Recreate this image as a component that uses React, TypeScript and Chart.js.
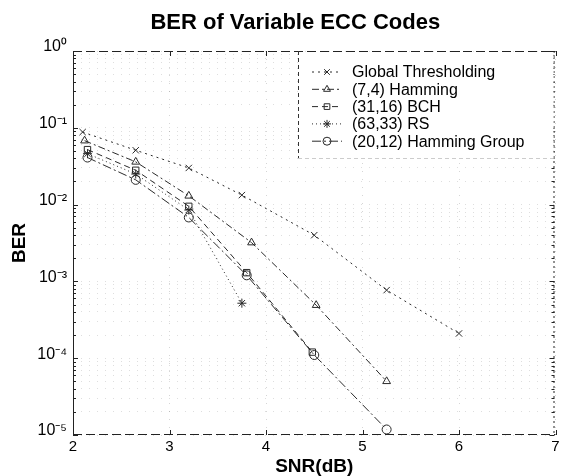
import React, { useEffect, useRef } from 'react';
import { Chart, registerables } from 'chart.js';
import { drawPoint } from 'chart.js/helpers';

Chart.register(...registerables);

// ---------------- data ----------------
const chartTitle = 'BER of Variable ECC Codes';
const xTitle = 'SNR(dB)';
const yTitle = 'BER';

const seriesLabels = [
  'Global Thresholding',
  '(7,4) Hamming',
  '(31,16) BCH',
  '(63,33) RS',
  '(20,12) Hamming Group',
];

const snrGlobal = [2.1, 2.65, 3.2, 3.75, 4.5, 5.25, 6.0];
const berGlobal = [0.088, 0.051, 0.03, 0.0133, 0.004, 0.00077, 0.00021];

const snrHamming74 = [2.12, 2.65, 3.2, 3.85, 4.52, 5.25];
const berHamming74 = [0.068, 0.036, 0.013, 0.0032, 0.00049, 0.00005];

const snrBCH = [2.15, 2.65, 3.2, 3.8, 4.48];
const berBCH = [0.052, 0.028, 0.0095, 0.0013, 0.00012];

const snrRS = [2.15, 2.65, 3.2, 3.75];
const berRS = [0.046, 0.025, 0.0085, 0.00052];

const snrHG = [2.15, 2.65, 3.2, 3.8, 4.5, 5.25];
const berHG = [0.041, 0.021, 0.0068, 0.0012, 0.00011, 0.0000118];

const xTicks = [2, 3, 4, 5, 6, 7];
const yMajorTicks = [1e-5, 1e-4, 1e-3, 1e-2, 1e-1, 1];
const yMinorMultipliers = [2, 3, 4, 5, 6, 7, 8, 9];

// ---------------- helpers ----------------
const FONT = "'Liberation Sans', Arial, Helvetica, sans-serif";
const INK = '#2a2a2a';

const SUP: Record<string, string> = {
  '0': '\u2070', '1': '\u00B9', '2': '\u00B2', '3': '\u00B3', '4': '\u2074',
  '5': '\u2075', '6': '\u2076', '7': '\u2077', '8': '\u2078', '9': '\u2079', '-': '\u207B',
};
const isPow10 = (v: number) => Math.abs(Math.log10(v) - Math.round(Math.log10(v))) < 1e-9;
const powLabel = (v: number) => {
  const e = Math.round(Math.log10(v));
  return '10' + String(e).split('').map((c) => SUP[c] ?? c).join('');
};

const yTickValues: number[] = [];
yMajorTicks.forEach((m, i) => {
  yTickValues.push(m);
  if (i < yMajorTicks.length - 1) yMinorMultipliers.forEach((k) => yTickValues.push(m * k));
});

const toPoints = (xs: number[], ys: number[]) => xs.map((x, i) => ({ x, y: ys[i] }));

const seriesStyles = [
  { dash: [2, 4], point: 'crossRot' },
  { dash: [7, 3, 2, 3], point: 'triangle' },
  { dash: [6, 4], point: 'rect' },
  { dash: [1, 3], point: 'star' },
  { dash: [9, 3, 2, 3], point: 'circle' },
];
const seriesData = [
  toPoints(snrGlobal, berGlobal),
  toPoints(snrHamming74, berHamming74),
  toPoints(snrBCH, berBCH),
  toPoints(snrRS, berRS),
  toPoints(snrHG, berHG),
];

// ---------------- plugins ----------------
const titlePlugin = {
  id: 'matlabTitle',
  afterDraw(chart: any) {
    const { ctx, chartArea } = chart;
    ctx.save();
    ctx.font = `bold 22px ${FONT}`;
    ctx.fillStyle = '#000';
    ctx.textAlign = 'center';
    ctx.textBaseline = 'middle';
    ctx.fillText(chartTitle, (chartArea.left + chartArea.right) / 2 - 19, 23);
    ctx.restore();
  },
};

const framePlugin = {
  id: 'matlabFrame',
  beforeDatasetsDraw(chart: any) {
    const { ctx, chartArea: a, scales } = chart;
    ctx.save();
    ctx.strokeStyle = '#222';
    ctx.lineWidth = 1;
    ctx.setLineDash([]);
    ctx.beginPath();
    ctx.moveTo(a.left + 0.5, a.top);
    ctx.lineTo(a.left + 0.5, a.bottom);
    ctx.stroke();
    ctx.setLineDash([9, 4]);
    ctx.beginPath();
    ctx.moveTo(a.left, a.top + 0.5);
    ctx.lineTo(a.right, a.top + 0.5);
    ctx.moveTo(a.left, a.bottom - 0.5);
    ctx.lineTo(a.right, a.bottom - 0.5);
    ctx.stroke();
    ctx.setLineDash([2, 3]);
    ctx.beginPath();
    ctx.moveTo(a.right - 1.5, a.top);
    ctx.lineTo(a.right - 1.5, a.bottom);
    ctx.stroke();
    ctx.setLineDash([]);
    ctx.beginPath();
    scales.x.ticks.forEach((t: any) => {
      const px = Math.round(scales.x.getPixelForValue(t.value)) + 0.5;
      ctx.moveTo(px, a.bottom);
      ctx.lineTo(px, a.bottom - 5);
      ctx.moveTo(px, a.top);
      ctx.lineTo(px, a.top + 5);
    });
    scales.y.ticks.forEach((t: any) => {
      const py = Math.round(scales.y.getPixelForValue(t.value)) + 0.5;
      const len = isPow10(t.value) ? 5 : 3;
      ctx.moveTo(a.left, py);
      ctx.lineTo(a.left + len, py);
      ctx.moveTo(a.right - 1, py);
      ctx.lineTo(a.right - 1 - len, py);
    });
    ctx.stroke();
    ctx.restore();
  },
};

const legendPlugin = {
  id: 'matlabLegend',
  afterDatasetsDraw(chart: any) {
    const { ctx, chartArea: a } = chart;
    const boxL = 298;
    const boxT = a.top;
    const boxR = a.right - 2;
    const boxB = 158;
    ctx.save();
    ctx.fillStyle = '#fff';
    ctx.fillRect(boxL, boxT + 1, boxR - boxL, boxB - boxT);
    ctx.strokeStyle = '#333';
    ctx.lineWidth = 1;
    ctx.setLineDash([4, 3]);
    ctx.beginPath();
    ctx.moveTo(boxL + 0.5, boxT);
    ctx.lineTo(boxL + 0.5, boxB + 0.5);
    ctx.stroke();
    ctx.strokeStyle = '#ccc';
    ctx.beginPath();
    ctx.moveTo(boxL, boxB + 0.5);
    ctx.lineTo(boxR, boxB + 0.5);
    ctx.stroke();

    ctx.font = `16px ${FONT}`;
    ctx.textAlign = 'left';
    ctx.textBaseline = 'middle';
    chart.data.datasets.forEach((ds: any, i: number) => {
      const y = 72 + i * 17.3;
      ctx.strokeStyle = INK;
      ctx.lineWidth = 1;
      ctx.setLineDash(ds.borderDash || []);
      ctx.beginPath();
      ctx.moveTo(312, y);
      ctx.lineTo(342, y);
      ctx.stroke();
      ctx.setLineDash([]);
      ctx.fillStyle = 'rgba(0,0,0,0)';
      drawPoint(ctx, { pointStyle: ds.pointStyle, rotation: 0, radius: 4, borderWidth: 1 } as any, 327, y);
      ctx.fillStyle = '#000';
      ctx.fillText(ds.label, 352, y + 1);
    });
    ctx.restore();
  },
};

// ---------------- component ----------------
export default function App() {
  const canvasRef = useRef<HTMLCanvasElement | null>(null);

  useEffect(() => {
    if (!canvasRef.current) return;
    const chart = new Chart(canvasRef.current, {
      type: 'line',
      data: {
        datasets: seriesLabels.map((label, i) => ({
          label,
          data: seriesData[i],
          borderColor: INK,
          borderWidth: 1,
          borderDash: seriesStyles[i].dash,
          pointStyle: seriesStyles[i].point as any,
          pointRadius: 4.5,
          pointBorderWidth: 1,
          pointBorderColor: INK,
          pointBackgroundColor: 'rgba(0,0,0,0)',
          fill: false,
          tension: 0,
        })),
      },
      options: {
        animation: false,
        responsive: true,
        maintainAspectRatio: false,
        devicePixelRatio: 1,
        layout: { padding: { left: 0, right: 3, top: 51, bottom: 0 } },
        plugins: {
          legend: { display: false },
          title: { display: false },
          tooltip: { enabled: false },
        },
        scales: {
          x: {
            type: 'linear',
            min: 2,
            max: 7,
            afterBuildTicks: (scale: any) => {
              scale.ticks = xTicks.map((v) => ({ value: v }));
            },
            afterFit: (scale: any) => {
              scale.height = 41;
              scale.paddingLeft = 0;
              scale.paddingRight = 0;
            },
            ticks: {
              font: { family: FONT, size: 15 },
              color: '#000',
              padding: 3,
              maxRotation: 0,
              autoSkip: false,
              callback: (v: any) => String(v),
            },
            grid: {
              color: 'rgba(0,0,0,0.16)',
              lineWidth: 1,
              drawTicks: false,
            },
            border: { display: false, dash: [1, 7] },
            title: {
              display: true,
              text: xTitle,
              font: { family: FONT, size: 19, weight: 'bold', lineHeight: 1 },
              color: '#000',
              padding: { top: 0, bottom: 0 },
            },
          },
          y: {
            type: 'logarithmic',
            min: 1e-5,
            max: 1,
            afterBuildTicks: (scale: any) => {
              scale.ticks = yTickValues.map((v) => ({ value: v, major: false }));
            },
            afterFit: (scale: any) => {
              scale.width = 73;
              scale.paddingTop = 0;
              scale.paddingBottom = 0;
            },
            ticks: {
              font: { family: FONT, size: 16 },
              color: '#000',
              padding: 6,
              labelOffset: -4,
              autoSkip: false,
              callback: (v: any) => (isPow10(Number(v)) ? powLabel(Number(v)) : ''),
            },
            grid: {
              color: 'rgba(0,0,0,0.13)',
              lineWidth: 1,
              drawTicks: false,
            },
            border: { display: false, dash: [1, 7] },
            title: {
              display: true,
              text: yTitle,
              font: { family: FONT, size: 19, weight: 'bold', lineHeight: 1 },
              color: '#000',
              padding: { top: 10.5, bottom: 0 },
            },
          },
        },
      },
      plugins: [framePlugin, legendPlugin, titlePlugin],
    } as any);
    return () => chart.destroy();
  }, []);

  return (
    <div style={{ position: 'fixed', left: 0, top: 0, width: 561, height: 476, background: '#fff' }}>
      <canvas ref={canvasRef} />
    </div>
  );
}
